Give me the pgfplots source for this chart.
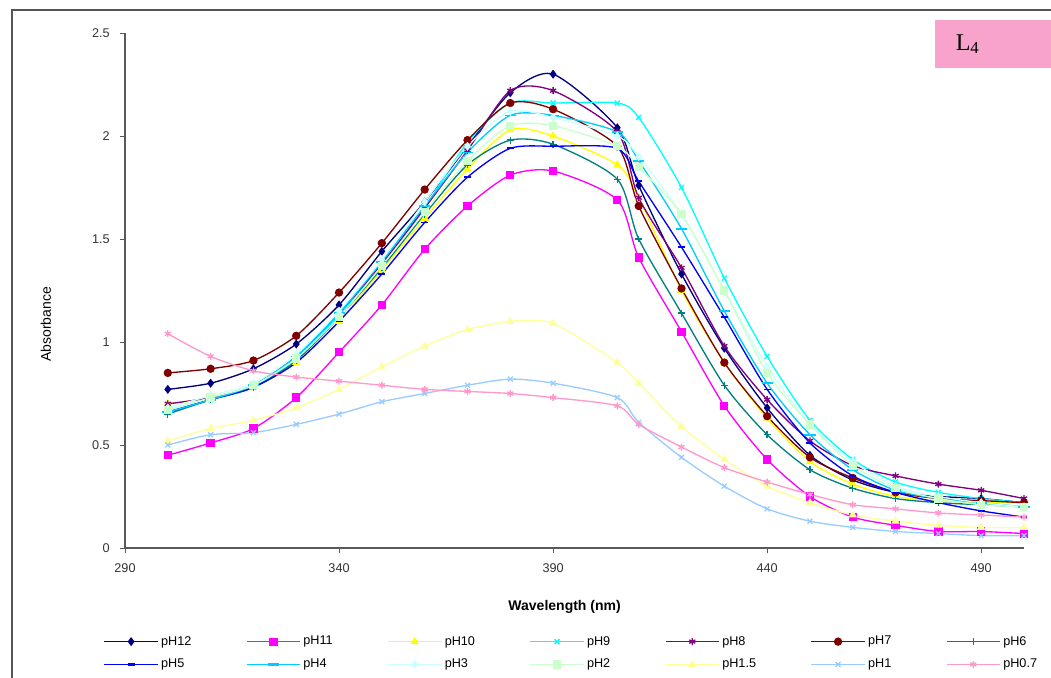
\documentclass[border=0pt]{standalone}
\usepackage{pgfplots}
\pgfplotsset{compat=1.18}
\usepackage{fontspec}
\setmainfont{Liberation Sans}
\newfontfamily\serifL{Liberation Serif}
\definecolor{sNavy}{HTML}{000080}
\definecolor{sMagenta}{HTML}{FF00FF}
\definecolor{sYellow}{HTML}{FFFF00}
\definecolor{sCyan}{HTML}{00FFFF}
\definecolor{sPurple}{HTML}{800080}
\definecolor{sDarkRed}{HTML}{800000}
\definecolor{sTeal}{HTML}{008080}
\definecolor{sBlue}{HTML}{0000FF}
\definecolor{sSky}{HTML}{00CCFF}
\definecolor{sTurq}{HTML}{CCFFFF}
\definecolor{sGreen}{HTML}{CCFFCC}
\definecolor{sLYellow}{HTML}{FFFF99}
\definecolor{sPale}{HTML}{99CCFF}
\definecolor{sPink}{HTML}{FF99CC}
\definecolor{boxpink}{HTML}{F7A3CB}
\definecolor{framegray}{HTML}{555555}
\pgfdeclareplotmark{hdash}{\pgfpathmoveto{\pgfqpoint{-\pgfplotmarksize}{0pt}}\pgfpathlineto{\pgfqpoint{\pgfplotmarksize}{0pt}}\pgfusepathqstroke}
\pgfdeclareplotmark{hdashlong}{\pgfpathmoveto{\pgfqpoint{-1.6\pgfplotmarksize}{0pt}}\pgfpathlineto{\pgfqpoint{1.6\pgfplotmarksize}{0pt}}\pgfusepathqstroke}
\pgfplotsset{
  sty12/.style={color=sNavy, mark=diamond*},
  sty11/.style={color=sMagenta, mark=square*},
  sty10/.style={color=sYellow, mark=triangle*},
  sty9/.style={color=sCyan, mark=x},
  sty8/.style={color=sPurple, mark=asterisk},
  sty7/.style={color=sDarkRed, mark=*},
  sty6/.style={color=sTeal, mark=+},
  sty5/.style={color=sBlue, mark=hdash, mark options={line width=1.3pt}},
  sty4/.style={color=sSky, mark=hdashlong, mark options={line width=1.3pt}},
  sty3/.style={color=sTurq, mark=diamond*},
  sty2/.style={color=sGreen, mark=square*},
  sty15/.style={color=sLYellow, mark=triangle*},
  sty1/.style={color=sPale, mark=x},
  sty07/.style={color=sPink, mark=asterisk},
}
\begin{document}
\begin{tikzpicture}
\useasboundingbox (-93.75pt,-97.5pt) rectangle (694.5pt,411pt);
\draw[framegray, line width=1.1pt] (-84.75pt,-120pt) -- (-84.75pt,403.5pt) -- (720pt,403.5pt);
\fill[boxpink] (607.5pt,360pt) rectangle (700pt,396pt);
\node[font=\serifL\fontsize{18}{20}\selectfont, anchor=center] at (632pt,378pt) {L\textsubscript{4}};
\begin{axis}[
  at={(0pt,0pt)}, anchor=south west,
  scale only axis, width=674.25pt, height=386.25pt,
  xmin=290, xmax=500, ymin=0, ymax=2.5,
  xtick={290,340,390,440,490},
  ytick={0,0.5,1,1.5,2,2.5},
  yticklabels={0,0.5,1,1.5,2,2.5},
  axis lines=left,
  axis line style={gray!70!black, line width=0.8pt, -},
  tick style={gray!70!black, line width=0.6pt},
  tick align=outside, major tick length=4pt,
  /pgf/number format/assume math mode=true,
  ticklabel style={font=\fontsize{9.5}{11}\selectfont, text=black!80},
  xticklabel style={yshift=-4pt},
  yticklabel style={xshift=-4pt},
  xlabel={\textbf{Wavelength (nm)}},
  ylabel={Absorbance},
  xlabel style={font=\fontsize{10.5}{12}\selectfont, at={(axis description cs:0.489,-0.115)}, anchor=center},
  ylabel style={font=\fontsize{10.5}{12}\selectfont, at={(axis description cs:-0.088,0.434)}, anchor=center},
  legend columns=7,
  legend cell align=left,
  legend style={draw=none, fill=none, at={(0.497,-0.204)}, anchor=center,
    font=\fontsize{9.5}{11}\selectfont, row sep=5pt,
    /tikz/every even column/.append style={column sep=39pt}},
  legend image code/.code={\draw[mark repeat=2, mark phase=2, line width=1pt, mark size=2.6pt, #1] plot coordinates {(0pt,0pt) (20pt,0pt) (40pt,0pt)};},
  every axis plot/.append style={line width=1pt, smooth, tension=0.45, mark size=2.6pt},
  clip=false,
]
\addlegendimage{sty12}\addlegendentry{pH12}
\addlegendimage{sty11}\addlegendentry{pH11}
\addlegendimage{sty10}\addlegendentry{pH10}
\addlegendimage{sty9}\addlegendentry{pH9}
\addlegendimage{sty8}\addlegendentry{pH8}
\addlegendimage{sty7}\addlegendentry{pH7}
\addlegendimage{sty6}\addlegendentry{pH6}
\addlegendimage{legend image code/.code={\draw[sBlue, line width=1pt] (0pt,0pt) -- (40pt,0pt); \draw[sBlue, line width=1.6pt] (17.3pt,0pt) -- (22.7pt,0pt);}}\addlegendentry{pH5}
\addlegendimage{legend image code/.code={\draw[sSky, line width=1pt] (0pt,0pt) -- (40pt,0pt); \draw[sSky, line width=1.6pt] (16pt,0pt) -- (24pt,0pt);}}\addlegendentry{pH4}
\addlegendimage{sty3}\addlegendentry{pH3}
\addlegendimage{sty2}\addlegendentry{pH2}
\addlegendimage{sty15}\addlegendentry{pH1.5}
\addlegendimage{sty1}\addlegendentry{pH1}
\addlegendimage{sty07}\addlegendentry{pH0.7}
\addplot[sty12, forget plot] coordinates {(300,0.77)(310,0.80)(320,0.87)(330,0.99)(340,1.18)(350,1.44)(360,1.68)(370,1.95)(380,2.21)(390,2.30)(405,2.04)(410,1.76)(420,1.33)(430,0.97)(440,0.68)(450,0.45)(460,0.33)(470,0.27)(480,0.25)(490,0.24)(500,0.22)};
\addplot[sty11, forget plot] coordinates {(300,0.45)(310,0.51)(320,0.58)(330,0.73)(340,0.95)(350,1.18)(360,1.45)(370,1.66)(380,1.81)(390,1.83)(405,1.69)(410,1.41)(420,1.05)(430,0.69)(440,0.43)(450,0.25)(460,0.15)(470,0.11)(480,0.08)(490,0.08)(500,0.07)};
\addplot[sty10, forget plot] coordinates {(300,0.70)(310,0.73)(320,0.78)(330,0.90)(340,1.10)(350,1.35)(360,1.60)(370,1.84)(380,2.03)(390,2.00)(405,1.86)(410,1.70)(420,1.25)(430,0.90)(440,0.63)(450,0.42)(460,0.31)(470,0.25)(480,0.23)(490,0.22)(500,0.22)};
\addplot[sty9, forget plot] coordinates {(300,0.66)(310,0.72)(320,0.78)(330,0.92)(340,1.13)(350,1.38)(360,1.65)(370,1.97)(380,2.16)(390,2.16)(405,2.16)(410,2.09)(420,1.75)(430,1.31)(440,0.93)(450,0.62)(460,0.43)(470,0.32)(480,0.27)(490,0.24)(500,0.22)};
\addplot[sty8, forget plot] coordinates {(300,0.70)(310,0.73)(320,0.79)(330,0.93)(340,1.14)(350,1.38)(360,1.65)(370,1.93)(380,2.22)(390,2.22)(405,2.02)(410,1.70)(420,1.36)(430,0.98)(440,0.72)(450,0.52)(460,0.40)(470,0.35)(480,0.31)(490,0.28)(500,0.24)};
\addplot[sty7, forget plot] coordinates {(300,0.85)(310,0.87)(320,0.91)(330,1.03)(340,1.24)(350,1.48)(360,1.74)(370,1.98)(380,2.16)(390,2.13)(405,1.95)(410,1.66)(420,1.26)(430,0.90)(440,0.64)(450,0.44)(460,0.34)(470,0.27)(480,0.24)(490,0.23)(500,0.22)};
\addplot[sty6, forget plot] coordinates {(300,0.65)(310,0.72)(320,0.78)(330,0.91)(340,1.12)(350,1.36)(360,1.62)(370,1.86)(380,1.98)(390,1.96)(405,1.79)(410,1.50)(420,1.14)(430,0.79)(440,0.55)(450,0.38)(460,0.29)(470,0.24)(480,0.22)(490,0.21)(500,0.20)};
\addplot[sty5, forget plot] coordinates {(300,0.66)(310,0.72)(320,0.78)(330,0.90)(340,1.10)(350,1.33)(360,1.58)(370,1.80)(380,1.94)(390,1.95)(405,1.94)(410,1.78)(420,1.46)(430,1.12)(440,0.77)(450,0.51)(460,0.35)(470,0.27)(480,0.22)(490,0.18)(500,0.15)};
\addplot[sty4, forget plot] coordinates {(300,0.66)(310,0.72)(320,0.79)(330,0.93)(340,1.14)(350,1.39)(360,1.66)(370,1.92)(380,2.10)(390,2.10)(405,2.02)(410,1.88)(420,1.55)(430,1.15)(440,0.80)(450,0.55)(460,0.38)(470,0.28)(480,0.24)(490,0.22)(500,0.20)};
\addplot[sty3, forget plot] coordinates {(300,0.68)(310,0.74)(320,0.80)(330,0.94)(340,1.15)(350,1.40)(360,1.68)(370,1.95)(380,2.12)(390,2.09)(405,2.00)(410,1.90)(420,1.62)(430,1.25)(440,0.88)(450,0.60)(460,0.42)(470,0.30)(480,0.25)(490,0.22)(500,0.20)};
\addplot[sty2, forget plot] coordinates {(300,0.67)(310,0.73)(320,0.79)(330,0.92)(340,1.12)(350,1.37)(360,1.63)(370,1.88)(380,2.05)(390,2.05)(405,1.95)(410,1.85)(420,1.62)(430,1.25)(440,0.85)(450,0.60)(460,0.40)(470,0.29)(480,0.24)(490,0.21)(500,0.20)};
\addplot[sty15, forget plot] coordinates {(300,0.52)(310,0.58)(320,0.62)(330,0.68)(340,0.77)(350,0.88)(360,0.98)(370,1.06)(380,1.10)(390,1.09)(405,0.90)(410,0.80)(420,0.59)(430,0.43)(440,0.30)(450,0.22)(460,0.16)(470,0.13)(480,0.11)(490,0.10)(500,0.10)};
\addplot[sty1, forget plot] coordinates {(300,0.50)(310,0.55)(320,0.56)(330,0.60)(340,0.65)(350,0.71)(360,0.75)(370,0.79)(380,0.82)(390,0.80)(405,0.73)(410,0.61)(420,0.44)(430,0.30)(440,0.19)(450,0.13)(460,0.10)(470,0.08)(480,0.07)(490,0.06)(500,0.06)};
\addplot[sty07, forget plot] coordinates {(300,1.04)(310,0.93)(320,0.86)(330,0.83)(340,0.81)(350,0.79)(360,0.77)(370,0.76)(380,0.75)(390,0.73)(405,0.69)(410,0.60)(420,0.49)(430,0.39)(440,0.32)(450,0.26)(460,0.21)(470,0.19)(480,0.17)(490,0.16)(500,0.15)};
\end{axis}
\end{tikzpicture}
\end{document}
